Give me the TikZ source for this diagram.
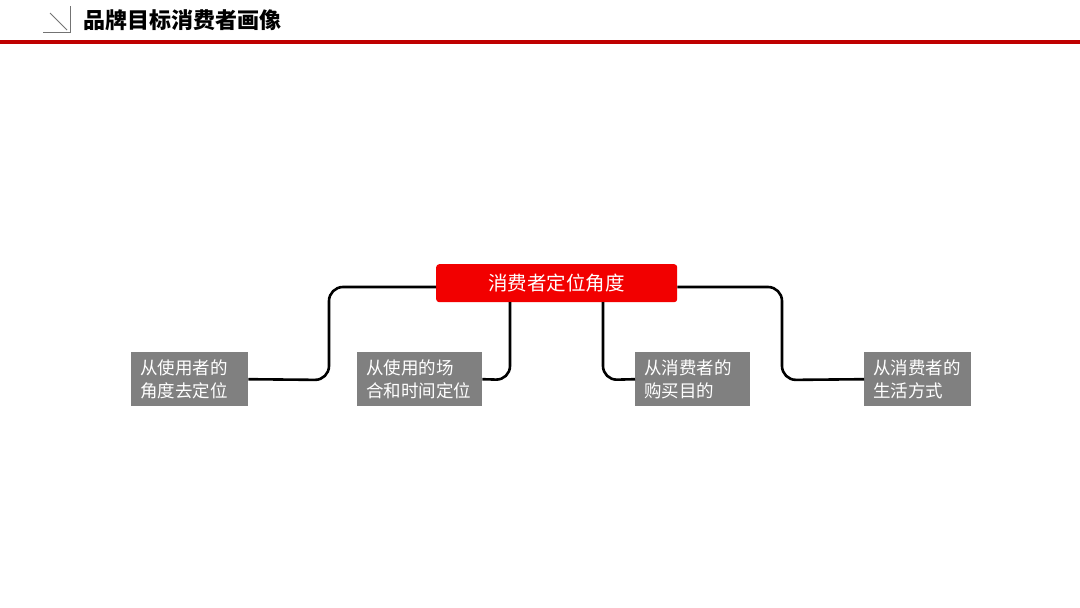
\documentclass[tikz,border=0pt]{standalone}
\usepackage{fontspec}
\setmainfont{Noto Sans CJK SC}
\begin{document}
\begin{tikzpicture}[x=1pt,y=-1pt,
  graybox/.style={fill=black!50,text=white,inner xsep=9pt,inner ysep=0pt,align=left,font=\fontsize{17.5}{23}\selectfont,anchor=north west,minimum height=54pt},
  conn/.style={draw=black,line width=2.6pt,rounded corners=14pt}]
\useasboundingbox (0,0) rectangle (1080,608);
\fill[white] (0,0) rectangle (1080,608);
\draw[black!55,line width=0.8pt] (70,6) -- (70,32) -- (43,32);
\draw[black!55,line width=0.8pt] (50,13) -- (67,30);
\node[anchor=west,font=\fontsize{22}{24}\selectfont\bfseries] (title) at (80,20) {品牌目标消费者画像};
\fill[red!75!black] (0,40) rectangle (1080,44);
\node[fill=red!95!black,rounded corners=3pt,minimum width=241pt,minimum height=38pt,text=white,inner sep=0pt,font=\fontsize{19.5}{22}\selectfont,anchor=north west] (c) at (436,264) {消费者定位角度};
\node[graybox,minimum width=117pt,text width=99pt] (b1) at (131,352) {从使用者的\\角度去定位};
\node[graybox,minimum width=125pt,text width=107pt] (b2) at (357,352) {从使用的场\\合和时间定位};
\node[graybox,minimum width=115pt,text width=97pt] (b3) at (635,352) {从消费者的\\购买目的};
\node[graybox,minimum width=107pt,text width=89pt] (b4) at (864,352) {从消费者的\\生活方式};
\draw[conn] (b1.east) -- (329,380) -- (329,287) -- (c.west |- 0,287);
\draw[conn] (b2.east) -- (510,380) -- (510,302);
\draw[conn] (603,302) -- (603,380) -- (b3.west);
\draw[conn] (c.east |- 0,287) -- (782,287) -- (782,380) -- (b4.west);
\end{tikzpicture}
\end{document}
